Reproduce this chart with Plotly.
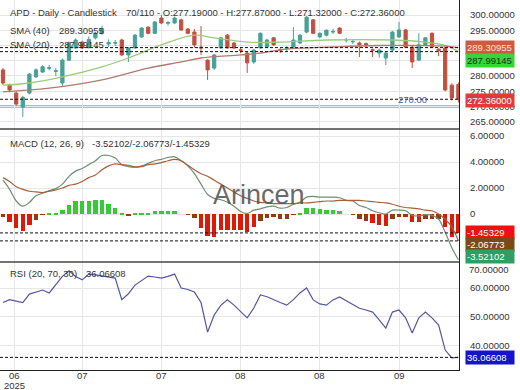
import plotly.graph_objects as go
from plotly.subplots import make_subplots

# ---------------- data ----------------
bars = list(range(70))
opens = [282.0, 277.0, 274.4, 269.8, 274.4, 279.7, 281.3, 282.5, 281.5, 277.7,
         285.2, 289.2, 291.1, 289.3, 292.5, 294.0, 290.5, 290.8, 291.8, 286.9,
         289.2, 292.8, 296.0, 294.0, 299.0, 297.3, 297.4, 298.4, 295.4, 294.4,
         289.5, 285.2, 282.6, 289.2, 293.4, 290.8, 288.6, 287.5, 284.6, 289.2,
         289.5, 292.5, 288.6, 289.1, 289.5, 290.8, 294.4, 298.4, 292.8, 293.4,
         294.4, 295.7, 291.8, 291.2, 290.8, 290.6, 288.6, 287.5, 285.9, 288.5,
         292.8, 295.1, 289.5, 285.2, 290.2, 294.0, 288.8, 289.2, 277.0, 277.19]
highs = [282.6, 277.5, 275.0, 273.5, 281.0, 282.5, 283.5, 283.6, 282.6, 285.7,
         291.3, 292.3, 291.6, 293.0, 294.5, 296.5, 292.0, 291.8, 292.2, 289.5,
         293.8, 296.0, 296.3, 298.0, 300.0, 298.0, 299.5, 298.8, 295.7, 295.4,
         296.4, 285.5, 287.2, 292.8, 293.8, 291.2, 289.5, 288.0, 288.8, 294.3,
         292.2, 292.8, 289.2, 289.8, 296.0, 293.8, 299.6, 298.7, 294.3, 295.3,
         295.5, 296.0, 292.5, 292.0, 291.3, 291.0, 289.0, 289.0, 288.0, 294.8,
         297.7, 295.4, 289.8, 294.0, 292.8, 294.3, 289.0, 289.5, 277.6, 277.87]
lows = [277.0, 274.6, 270.2, 266.6, 274.0, 279.4, 281.0, 281.8, 280.0, 276.5,
        284.9, 289.0, 288.9, 289.0, 292.0, 293.5, 289.5, 289.8, 286.5, 284.6,
        289.0, 292.5, 293.7, 293.8, 297.0, 296.5, 297.0, 294.8, 293.8, 289.3,
        286.9, 278.7, 282.0, 289.0, 289.0, 288.8, 287.5, 281.0, 284.0, 289.0,
        289.2, 290.0, 287.5, 288.0, 289.2, 290.5, 294.0, 293.8, 292.5, 293.0,
        293.8, 293.8, 291.0, 290.5, 286.2, 289.2, 286.2, 286.0, 283.6, 288.2,
        292.5, 289.2, 282.6, 285.0, 290.0, 289.2, 286.5, 275.0, 272.0, 271.32]
closes = [277.7, 275.4, 270.8, 273.0, 280.6, 282.0, 283.0, 282.7, 281.7, 285.2,
          290.8, 291.8, 289.2, 292.0, 294.0, 295.5, 291.0, 290.9, 286.9, 289.2,
          293.4, 295.7, 294.0, 297.7, 297.4, 297.5, 299.0, 295.1, 294.0, 290.2,
          289.2, 282.0, 286.9, 292.5, 289.2, 289.2, 288.4, 284.3, 288.5, 294.0,
          291.8, 290.2, 288.4, 289.3, 291.8, 293.4, 299.3, 294.0, 294.0, 295.0,
          294.6, 294.0, 291.9, 291.3, 290.2, 290.2, 288.4, 288.5, 287.5, 294.4,
          295.1, 289.5, 284.6, 290.2, 292.5, 289.5, 288.3, 275.4, 272.8, 272.36]

sma20_bar = [0, 4, 9, 15, 19, 24, 29, 32, 37, 42, 49, 59, 64, 67, 69]
sma20_val = [277.0, 277.7, 279.7, 283.0, 285.9, 290.2, 293.4, 292.5, 291.1, 291.1,
             291.8, 291.8, 291.1, 290.0, 287.99145]
sma40_bar = [0, 7, 15, 22, 27, 30, 36, 39, 43, 50, 57, 63, 67, 69]
sma40_val = [274.8, 276.0, 278.7, 282.6, 284.6, 285.9, 286.9, 287.5, 288.8, 289.5,
             290.0, 290.0, 289.8, 289.30955]

macd = [2.6, 1.9, 1.0, 0.6, 0.9, 1.4, 1.6, 1.8, 1.95, 2.3,
        2.9, 3.3, 3.5, 3.8, 4.1, 4.5, 4.5, 4.3, 3.8, 3.65,
        3.6, 3.7, 3.9, 4.1, 4.2, 4.35, 4.4, 4.1, 3.7, 3.1,
        2.3, 1.5, 1.2, 1.1, 0.9, 0.6, 0.2, 0.05, 0.3, 0.4,
        0.55, 0.6, 0.45, 0.5, 0.75, 0.9, 1.3, 1.35, 1.3, 1.3,
        1.3, 1.25, 1.05, 1.0, 0.65, 0.5, 0.25, 0.1, 0.0, 0.3,
        0.3, 0.25, -0.1, -0.15, -0.05, -0.1, -0.4, -1.4, -2.6, -3.52102]
signal = [2.8, 2.5, 2.1, 1.9, 1.75, 1.7, 1.65, 1.75, 1.85, 2.0,
          2.2, 2.3, 2.5, 2.8, 3.0, 3.4, 3.7, 3.85, 3.8, 3.75,
          3.62, 3.65, 3.8, 3.85, 3.95, 4.1, 4.2, 4.1, 3.75, 3.4,
          3.1, 2.9, 2.6, 2.3, 2.0, 1.7, 1.4, 1.2, 1.0, 0.9,
          0.85, 0.8, 0.8, 0.8, 0.8, 0.85, 0.85, 0.9, 0.95, 1.0,
          1.0, 1.05, 1.05, 1.05, 1.05, 1.0, 0.95, 0.9, 0.85, 0.75,
          0.6, 0.5, 0.45, 0.4, 0.3, 0.25, 0.0, -0.4, -1.0, -2.06773]
hist = [-0.2, -0.6, -1.1, -1.3, -0.85, -0.45, -0.05, 0.05, 0.1, 0.3,
        0.7, 1.0, 1.0, 1.0, 1.1, 1.1, 0.8, 0.45, 0.05, -0.1,
        0.02, 0.05, 0.1, 0.25, 0.25, 0.25, 0.2, 0.0, -0.05, -0.3,
        -1.1, -1.7, -1.75, -1.25, -1.25, -1.25, -1.2, -1.4, -1.0, -0.5,
        -0.3, -0.25, -0.4, -0.35, -0.05, 0.05, 0.45, 0.45, 0.35, 0.3,
        0.3, 0.2, 0.0, -0.05, -0.4, -0.5, -0.7, -0.85, -0.95, -0.4,
        -0.25, -0.2, -0.6, -0.6, -0.4, -0.35, -0.35, -1.0, -1.75, -1.45329]
rsi = [55.0, 56.0, 55.5, 55.0, 57.9, 58.5, 59.3, 58.3, 61.0, 64.0,
       65.9, 64.0, 62.8, 64.8, 64.5, 64.1, 63.8, 63.4, 56.0, 58.0,
       61.0, 62.5, 64.1, 63.8, 63.4, 64.0, 64.8, 60.0, 59.5, 58.6,
       55.0, 44.8, 50.7, 54.0, 55.9, 54.1, 52.0, 49.7, 53.1, 57.6,
       57.0, 55.9, 55.0, 54.1, 56.0, 58.3, 60.0, 55.9, 54.5, 54.1,
       55.9, 56.9, 55.5, 54.1, 53.0, 52.4, 51.7, 49.0, 46.2, 51.7,
       52.4, 49.7, 44.5, 49.7, 51.7, 49.7, 47.2, 38.6, 35.9, 36.06608]

support_level = 270.0
last_close = 272.36
sma40_last = 289.30955
sma20_last = 287.99145
x_tick_bars = [1.7, 12, 24, 36, 48, 60]
x_tick_text = ["06<br>2025", "07", "07", "08", "08", "09"]
price_ticks = [265, 270, 275, 280, 285, 290, 295, 300]
price_hidden = [285, 290]          # covered by the value boxes in the reference
macd_ticks = [0, 2, 4, 6]
rsi_ticks = [40, 50, 60]

# ---------------- styling ----------------
FONT = "Liberation Sans, Arial, sans-serif"
FS = 9.5
TXT = "#333333"
GRID = "#e6e6e6"
BULL = "#4a9f98"
BEAR = "#c0503f"
XR = [-0.4545, 69.09]
D_PRICE = [0.6514, 1.0]
D_MACD = [0.2919, 0.6514]
D_RSI = [0.0, 0.2919]
PLOT_H = 370.0

fig = make_subplots(rows=3, cols=1, shared_xaxes=True, vertical_spacing=0)

fig.add_trace(go.Candlestick(
    x=bars, open=opens, high=highs, low=lows, close=closes,
    increasing=dict(line=dict(color=BULL, width=1), fillcolor=BULL),
    decreasing=dict(line=dict(color=BEAR, width=1), fillcolor=BEAR),
    whiskerwidth=0, showlegend=False, hoverinfo="skip"), row=1, col=1)
fig.add_trace(go.Scatter(x=sma20_bar, y=sma20_val, mode="lines",
                         line=dict(color="#9ccb7c", width=1.3, shape="spline"),
                         showlegend=False), row=1, col=1)
fig.add_trace(go.Scatter(x=sma40_bar, y=sma40_val, mode="lines",
                         line=dict(color="#b27a6c", width=1.3, shape="spline"),
                         showlegend=False), row=1, col=1)

hist_colors = ["#33cc33" if v >= 0 else ("#dd1a08" if v <= -0.55 else "#8e3c12") for v in hist]
fig.add_trace(go.Bar(x=bars, y=hist, marker=dict(color=hist_colors, line=dict(width=0)),
                     width=0.68, showlegend=False), row=2, col=1)
fig.add_trace(go.Scatter(x=bars, y=macd, mode="lines",
                         line=dict(color="#6f8f72", width=1.2, shape="spline"),
                         showlegend=False), row=2, col=1)
fig.add_trace(go.Scatter(x=bars, y=signal, mode="lines",
                         line=dict(color="#a5603c", width=1.2, shape="spline"),
                         showlegend=False), row=2, col=1)

fig.add_trace(go.Scatter(x=bars, y=rsi, mode="lines",
                         line=dict(color="#55559e", width=1.2),
                         showlegend=False), row=3, col=1)

# axes
for r in (1, 2, 3):
    fig.update_xaxes(row=r, col=1, range=XR, showgrid=True, gridcolor=GRID, gridwidth=1,
                     tickvals=x_tick_bars, ticktext=x_tick_text, zeroline=False,
                     rangeslider_visible=False, showline=False, ticks="",
                     showticklabels=False, automargin=False)
fig.update_xaxes(row=3, col=1, showline=True, linecolor="#222", linewidth=1)

yax_common = dict(side="right", showgrid=True, gridcolor=GRID, zeroline=False,
                  showline=True, linecolor="#222", linewidth=1, ticks="", automargin=False,
                  ticklabelstandoff=8, tickfont=dict(family=FONT, size=FS, color=TXT))
fig.update_yaxes(row=1, col=1, range=[262.62, 304.92], domain=D_PRICE,
                 tickvals=price_ticks,
                 ticktext=["" if v in price_hidden else f"{v:.5f}" for v in price_ticks], **yax_common)
fig.update_yaxes(row=2, col=1, range=[-3.69, 6.54], domain=D_MACD,
                 tickvals=macd_ticks, ticktext=["0" if v == 0 else f"{v:.5f}" for v in macd_ticks],
                 **yax_common)
fig.update_yaxes(row=3, col=1, range=[31.72, 68.97], domain=D_RSI,
                 tickvals=rsi_ticks, ticktext=[f"{v:.5f}" for v in rsi_ticks], **yax_common)

shapes = []
shapes.append(dict(type="line", xref="x domain", x0=0, x1=1, yref="y", y0=support_level, y1=support_level,
                   line=dict(color="#b49c8e", width=2.5), layer="below"))
for lvl in (sma40_last, sma20_last, last_close):
    shapes.append(dict(type="line", xref="x domain", x0=0, x1=1, yref="y", y0=lvl, y1=lvl,
                       line=dict(color="#111", width=1, dash="3px,2px")))
for lvl in (hist[-1], signal[-1]):
    shapes.append(dict(type="line", xref="x2 domain", x0=0, x1=1, yref="y2", y0=lvl, y1=lvl,
                       line=dict(color="#111", width=1, dash="3px,2px")))
shapes.append(dict(type="line", xref="x3 domain", x0=0, x1=1, yref="y3", y0=rsi[-1], y1=rsi[-1],
                   line=dict(color="#111", width=1, dash="3px,2px")))
for yy in (D_PRICE[0], D_MACD[0]):
    shapes.append(dict(type="line", xref="paper", x0=0, x1=1, yref="paper", y0=yy, y1=yy,
                       line=dict(color="#444", width=1.5)))

ann = []
def hdr(x, y, text, size=FS):
    ann.append(dict(xref="paper", yref="paper", x=x / 459, y=1 - y / PLOT_H, text=text,
                    showarrow=False, xanchor="left", yanchor="middle",
                    font=dict(family=FONT, size=size, color=TXT)))

hdr(8, 12, "APD - Daily - Candlestick")
hdr(124, 12, f"70/110 - O:{opens[-1]:.5f} - H:{highs[-1]:.5f} - L:{lows[-1]:.5f} - C:{closes[-1]:.5f}")
hdr(8, 30, "SMA (40)")
hdr(57, 30, f"{sma40_last:.5f}")
hdr(8, 45, "SMA (20)")
hdr(57, 45, f"{sma20_last:.5f}")
hdr(8, 143, "MACD (12, 26, 9)")
hdr(90, 143, f"{macd[-1]:.5f}/{signal[-1]:.5f}/{hist[-1]:.5f}")
hdr(8, 273, "RSI (20, 70, 30)")
hdr(84, 273, f"{rsi[-1]:.5f}")

# x tick labels (two-line first label, like the reference)
for xb, txt in zip(x_tick_bars, x_tick_text):
    for k, line in enumerate(txt.split("<br>")):
        ann.append(dict(xref="x3", x=xb, yref="paper", y=1 - (375 + 10 * k) / PLOT_H,
                        text=line, showarrow=False, xanchor="center", yanchor="middle",
                        font=dict(family=FONT, size=FS, color=TXT)))

def box(yref, val, bg, fg, yshift=0):
    ann.append(dict(xref="paper", x=1, xanchor="left", xshift=6, yref=yref, y=val,
                    yanchor="middle", yshift=yshift, text=f"{val:.5f}", showarrow=False,
                    bgcolor=bg, borderpad=1, width=46, align="left",
                    font=dict(family=FONT, size=FS, color=fg)))

box("y", sma40_last, "#cf5a3e", "#ffe2d8")
box("y", sma20_last, "#35d635", "#123312", -9)
box("y", last_close, "#e03a3a", "#ffffff", -1)
box("y2", hist[-1], "#ee1111", "#ffffff")
box("y2", signal[-1], "#7b4a1a", "#ffffff", -4)
box("y2", macd[-1], "#2f9e62", "#ffffff", 3)
box("y3", rsi[-1], "#1414c8", "#ffffff")

ann.append(dict(xref="paper", x=1, xanchor="left", xshift=8, yref="paper", y=1 - 269 / PLOT_H,
                yanchor="middle", text="70.00000", showarrow=False,
                font=dict(family=FONT, size=FS, color=TXT)))
ann.append(dict(xref="x", x=62, yref="y", y=272.2, text=f"{support_level:.2f}", showarrow=False,
                xanchor="center", yanchor="middle", font=dict(family=FONT, size=FS, color="#4a5aa6")))
ann.append(dict(xref="paper", yref="paper", x=259 / 459, y=1 - 195 / PLOT_H, text="Arincen",
                showarrow=False, xanchor="center", yanchor="middle",
                font=dict(family=FONT, size=27, color="rgba(85,85,85,0.9)")))

fig.update_layout(width=520, height=390, margin=dict(l=0, r=61, t=0, b=20, autoexpand=False),
                  paper_bgcolor="white", plot_bgcolor="white", bargap=0,
                  shapes=shapes, annotations=ann, showlegend=False,
                  font=dict(family=FONT, size=FS, color=TXT))

fig.write_html("out.html")
